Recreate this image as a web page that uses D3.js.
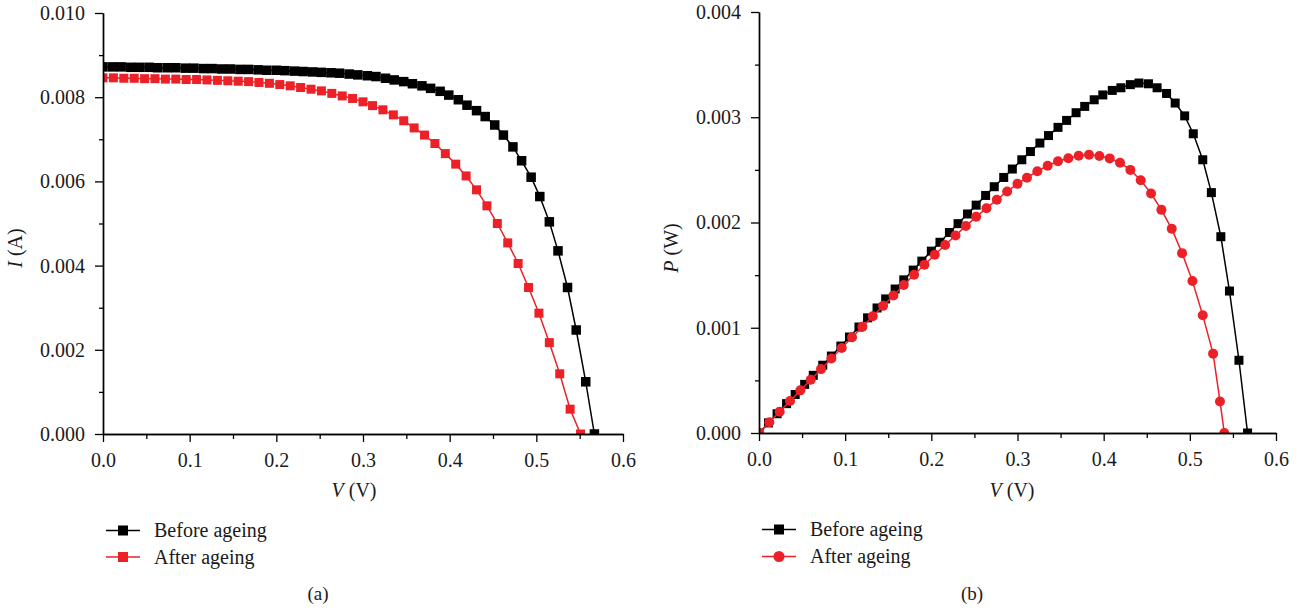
<!DOCTYPE html>
<html><head><meta charset="utf-8">
<script src="https://cdn.jsdelivr.net/npm/d3@7"></script>
<style>body{margin:0;background:#fff}svg text{font-family:"Liberation Serif","Times New Roman",serif;}</style>
</head><body><svg id="c" width="1303" height="616"></svg>
<script>
// ---------- DATA ----------
const vBefore = [0.000,0.011,0.021,0.032,0.042,0.053,0.063,0.074,0.084,0.095,0.105,0.116,0.126,0.137,0.147,0.158,0.168,0.179,0.189,0.200,0.210,0.221,0.231,0.242,0.252,0.263,0.273,0.284,0.294,0.305,0.315,0.326,0.336,0.347,0.357,0.368,0.378,0.389,0.399,0.410,0.420,0.431,0.441,0.452,0.462,0.473,0.483,0.494,0.504,0.515,0.525,0.536,0.546,0.557,0.567];
const iBefore = [0.00872,0.00872,0.00872,0.00871,0.00871,0.00871,0.00870,0.00870,0.00870,0.00869,0.00869,0.00868,0.00868,0.00867,0.00867,0.00866,0.00866,0.00865,0.00864,0.00864,0.00863,0.00862,0.00861,0.00860,0.00859,0.00858,0.00857,0.00855,0.00853,0.00851,0.00849,0.00845,0.00841,0.00837,0.00832,0.00827,0.00821,0.00814,0.00805,0.00794,0.00781,0.00768,0.00754,0.00734,0.00710,0.00682,0.00649,0.00610,0.00564,0.00504,0.00435,0.00348,0.00247,0.00124,0.00000];
const vAfter = [0.000,0.012,0.024,0.036,0.048,0.060,0.072,0.084,0.096,0.108,0.120,0.132,0.144,0.156,0.168,0.180,0.192,0.204,0.216,0.228,0.240,0.252,0.264,0.276,0.288,0.300,0.311,0.323,0.335,0.347,0.359,0.371,0.383,0.395,0.407,0.419,0.431,0.443,0.455,0.467,0.479,0.491,0.503,0.515,0.527,0.539,0.551];
const iAfter = [0.00846,0.00846,0.00845,0.00845,0.00844,0.00844,0.00843,0.00843,0.00842,0.00842,0.00841,0.00840,0.00839,0.00838,0.00837,0.00835,0.00833,0.00830,0.00827,0.00823,0.00819,0.00815,0.00809,0.00803,0.00797,0.00789,0.00780,0.00770,0.00758,0.00744,0.00727,0.00710,0.00690,0.00666,0.00641,0.00613,0.00580,0.00542,0.00500,0.00454,0.00405,0.00348,0.00287,0.00217,0.00143,0.00059,0.00000];
const vBeforeP = [0.000,0.011,0.021,0.032,0.042,0.053,0.063,0.074,0.084,0.095,0.105,0.116,0.126,0.137,0.147,0.158,0.168,0.179,0.189,0.200,0.210,0.221,0.231,0.242,0.252,0.263,0.273,0.284,0.294,0.305,0.315,0.326,0.336,0.347,0.357,0.368,0.378,0.389,0.399,0.410,0.420,0.431,0.441,0.452,0.462,0.473,0.483,0.494,0.504,0.515,0.525,0.536,0.546,0.557,0.567];
const pBefore = [0,0.000096,0.000183,0.000279,0.000366,0.000462,0.000548,0.000644,0.000731,0.000826,0.000912,0.001007,0.001094,0.001188,0.001274,0.001368,0.001455,0.001548,0.001633,0.001728,0.001812,0.001905,0.001989,0.002081,0.002165,0.002257,0.002340,0.002428,0.002508,0.002596,0.002674,0.002755,0.002826,0.002904,0.002970,0.003043,0.003103,0.003166,0.003212,0.003255,0.003280,0.003310,0.003325,0.003318,0.003280,0.003226,0.003135,0.003013,0.002843,0.002596,0.002284,0.001865,0.001349,0.000691,0];
const vAfterP = [0.000,0.012,0.024,0.036,0.048,0.060,0.072,0.084,0.096,0.108,0.120,0.132,0.144,0.156,0.168,0.180,0.192,0.204,0.216,0.228,0.240,0.252,0.264,0.276,0.288,0.300,0.311,0.323,0.335,0.347,0.359,0.371,0.383,0.395,0.407,0.419,0.431,0.443,0.455,0.467,0.479,0.491,0.503,0.515,0.527,0.535,0.540];
const pAfter = [0,0.000102,0.000203,0.000304,0.000405,0.000506,0.000607,0.000708,0.000808,0.000909,0.001009,0.001109,0.001208,0.001307,0.001406,0.001503,0.001599,0.001693,0.001786,0.001876,0.001966,0.002054,0.002136,0.002216,0.002295,0.002367,0.002426,0.002487,0.002539,0.002582,0.002610,0.002634,0.002643,0.002631,0.002609,0.002568,0.002500,0.002401,0.002275,0.002120,0.001940,0.001709,0.001444,0.001118,0.000754,0.000300,0];
const xTicks = [0,0.1,0.2,0.3,0.4,0.5,0.6];
const xMinor = [0.05,0.15,0.25,0.35,0.45,0.55];
const iTicks = [0,0.002,0.004,0.006,0.008,0.010];
const iMinor = [0.001,0.003,0.005,0.007,0.009];
const pTicks = [0,0.001,0.002,0.003,0.004];
const pMinor = [0.0005,0.0015,0.0025,0.0035];
const seriesNames = ["Before ageing","After ageing"];
const panelTags = ["(a)","(b)"];
const colBlack = "#000000", colRed = "#ec2128";

const svg = d3.select("#c");

function panel(o){
  const g = svg.append("g");
  const x = d3.scaleLinear().domain([0,0.6]).range([o.x0,o.x1]);
  const y = d3.scaleLinear().domain([0,o.ymax]).range([o.y0,o.y1]);
  const clipId = "clip"+o.id;
  svg.append("defs").append("clipPath").attr("id",clipId).append("rect")
    .attr("x",o.x0).attr("y",o.y1-10).attr("width",o.x1-o.x0+10).attr("height",o.y0-o.y1+10);
  const plot = g.append("g").attr("clip-path",`url(#${clipId})`);
  o.series.forEach(s=>{
    const pts = s.vs.map((v,i)=>[v,s.ys[i]]);
    plot.append("path").datum(pts)
      .attr("d",d3.line().x(d=>x(d[0])).y(d=>y(d[1])))
      .attr("fill","none").attr("stroke",s.color).attr("stroke-width",1.5);
    if(s.shape==="square"){
      plot.selectAll(null).data(pts).enter().append("rect")
        .attr("x",d=>x(d[0])-s.size/2).attr("y",d=>y(d[1])-s.size/2)
        .attr("width",s.size).attr("height",s.size).attr("fill",s.color);
    } else {
      plot.selectAll(null).data(pts).enter().append("circle")
        .attr("cx",d=>x(d[0])).attr("cy",d=>y(d[1])).attr("r",s.size/2).attr("fill",s.color);
    }
  });
  // axes
  const fmtX = d3.format(".1f"), fmtY = d3.format(".3f");
  g.append("g").attr("transform",`translate(0,${o.y0})`)
    .call(d3.axisBottom(x).tickValues(xTicks).tickFormat(fmtX).tickSize(8).tickSizeOuter(0).tickPadding(11));
  g.append("g").attr("transform",`translate(0,${o.y0})`)
    .call(d3.axisBottom(x).tickValues(xMinor).tickFormat("").tickSize(5).tickSizeOuter(0));
  g.append("g").attr("transform",`translate(${o.x0},0)`)
    .call(d3.axisLeft(y).tickValues(o.yTicks).tickFormat(fmtY).tickSize(8).tickSizeOuter(0).tickPadding(10));
  g.append("g").attr("transform",`translate(${o.x0},0)`)
    .call(d3.axisLeft(y).tickValues(o.yMinor).tickFormat("").tickSize(4).tickSizeOuter(0));
  g.selectAll(".domain").attr("stroke","#000").attr("stroke-width",1.4);
  g.selectAll(".tick line").attr("stroke","#000").attr("stroke-width",1.3);
  g.selectAll(".tick text").attr("font-size",20).attr("fill","#1a1a1a");
  // titles
  const xt = g.append("text").attr("x",o.xTitleX).attr("y",497).attr("text-anchor","middle")
    .attr("font-size",20).attr("fill","#1a1a1a");
  xt.append("tspan").attr("font-style","italic").text("V");
  xt.append("tspan").text(" (V)");
  const yt = g.append("text").attr("transform",`translate(${o.yTitleX},${o.yTitleY}) rotate(-90)`)
    .attr("text-anchor","middle").attr("font-size",20).attr("fill","#1a1a1a");
  yt.append("tspan").attr("font-style","italic").text(o.yVar);
  yt.append("tspan").text(" "+o.yUnit);
  // legend
  o.series.forEach((s,i)=>{
    const ly = o.legY[i];
    g.append("line").attr("x1",o.legX).attr("x2",o.legX+34).attr("y1",ly).attr("y2",ly)
      .attr("stroke",s.color).attr("stroke-width",1.5);
    if(s.shape==="square"){
      g.append("rect").attr("x",o.legX+17-s.legSize/2).attr("y",ly-s.legSize/2)
        .attr("width",s.legSize).attr("height",s.legSize).attr("fill",s.color);
    } else {
      g.append("circle").attr("cx",o.legX+17).attr("cy",ly).attr("r",s.legSize/2).attr("fill",s.color);
    }
    g.append("text").attr("x",o.legX+48).attr("y",ly+6.5).attr("font-size",20).attr("fill","#1a1a1a").text(seriesNames[i]);
  });
  g.append("text").attr("x",o.tagX).attr("y",600).attr("text-anchor","middle").attr("font-size",19).attr("fill","#1a1a1a").text(o.tag);
}

panel({id:"a", x0:103, x1:623, y0:434, y1:13, ymax:0.010, yTicks:iTicks, yMinor:iMinor,
  xTitleX:354, yTitleX:22, yTitleY:248, yVar:"I", yUnit:"(A)",
  legX:106, legY:[530.5,557], tagX:318, tag:panelTags[0],
  series:[
    {vs:vBefore, ys:iBefore, color:colBlack, shape:"square", size:9.5, legSize:10},
    {vs:vAfter, ys:iAfter, color:colRed, shape:"square", size:9, legSize:10}
  ]});
panel({id:"b", x0:759, x1:1276, y0:433, y1:12, ymax:0.004, yTicks:pTicks, yMinor:pMinor,
  xTitleX:1012, yTitleX:678, yTitleY:248, yVar:"P", yUnit:"(W)",
  legX:762, legY:[529.5,556.5], tagX:972, tag:panelTags[1],
  series:[
    {vs:vBeforeP, ys:pBefore, color:colBlack, shape:"square", size:9, legSize:10},
    {vs:vAfterP, ys:pAfter, color:colRed, shape:"circle", size:10, legSize:11}
  ]});
</script></body></html>
